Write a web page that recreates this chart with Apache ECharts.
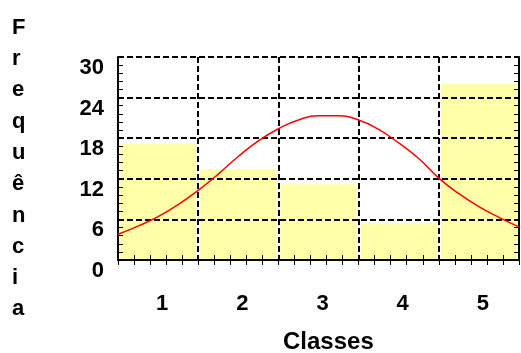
<!DOCTYPE html>
<html>
<head>
<meta charset="utf-8">
<script src="https://cdn.jsdelivr.net/npm/echarts@6/dist/echarts.min.js"></script>
<style>
html,body{margin:0;padding:0;background:#fff;}
#c{width:521px;height:353px;}
</style>
</head>
<body>
<div id="c"></div>
<script>
// ---- data ----
const categories = ['1', '2', '3', '4', '5'];
const barValues = [17.2, 13.4, 11.2, 5.5, 26.0];
const curveX = [0.5, 0.75, 1.0, 1.25, 1.5, 1.75, 2.0, 2.25, 2.5, 2.75, 3.0, 3.25, 3.5, 3.75, 4.0, 4.25, 4.5, 4.75, 5.0, 5.25, 5.5];
const curveY = [3.8, 5.0, 6.4, 8.2, 10.3, 12.7, 15.3, 17.6, 19.4, 20.7, 21.3, 21.3, 20.7, 19.3, 17.3, 15.0, 12.1, 9.8, 7.9, 6.3, 4.9];
const yTicks = [0, 6, 12, 18, 24, 30];
const yTitle = 'Frequência';
const xTitle = 'Classes';

const FONT = '"Liberation Sans", Arial, sans-serif';
const chart = echarts.init(document.getElementById('c'), null, {renderer: 'canvas'});
const dashed = {color: '#000', width: 2, type: [6, 3]};
const curveData = curveX.map((x, i) => [x, curveY[i]]);

chart.setOption({
  animation: false,
  backgroundColor: '#fff',
  grid: {left: 118, right: 2, top: 57, bottom: 93, containLabel: false},
  xAxis: [
    {
      type: 'category', data: categories, position: 'bottom', boundaryGap: true, z: 5,
      axisLine: {show: true, lineStyle: {color: '#000', width: 2}},
      axisTick: {show: false},
      axisLabel: {color: '#000', fontFamily: FONT, fontWeight: 'bold', fontSize: 22, margin: 33, padding: [0, 0, 0, 8]},
      splitLine: {show: true, lineStyle: dashed}
    },
    {
      type: 'value', min: 0.5, max: 5.5, interval: 1, position: 'top', z: 5,
      axisLine: {show: true, lineStyle: {color: '#000', width: 2}},
      axisTick: {show: true, inside: true, length: 5, lineStyle: {color: '#000', width: 1}},
      minorTick: {show: true, splitNumber: 5, length: 5, lineStyle: {color: '#000', width: 1}},
      axisLabel: {show: false}, splitLine: {show: false}
    },
    {
      type: 'value', min: 0.5, max: 5.5, interval: 1, position: 'bottom', z: 5,
      axisLine: {show: false},
      axisTick: {show: true, inside: true, length: 5, lineStyle: {color: '#000', width: 1}},
      minorTick: {show: true, splitNumber: 5, length: 5, lineStyle: {color: '#000', width: 1}},
      axisLabel: {show: false}, splitLine: {show: false}
    }
  ],
  yAxis: [
    {
      type: 'value', min: 0, max: 30, interval: 6, position: 'left', z: 5,
      axisLine: {show: true, lineStyle: {color: '#000', width: 2}},
      axisTick: {show: true, inside: true, length: 5, lineStyle: {color: '#000', width: 1}},
      minorTick: {show: true, splitNumber: 5, length: 5, lineStyle: {color: '#000', width: 1}},
      axisLabel: {color: '#000', fontFamily: FONT, fontWeight: 'bold', fontSize: 22, margin: 14, verticalAlign: 'top',
        formatter: v => yTicks.includes(v) ? String(v) : ''},
      splitLine: {show: true, lineStyle: dashed}
    },
    {
      type: 'value', min: 0, max: 30, interval: 6, position: 'right', z: 5,
      axisLine: {show: true, lineStyle: {color: '#000', width: 2}},
      axisTick: {show: true, inside: true, length: 5, lineStyle: {color: '#000', width: 1}},
      minorTick: {show: true, splitNumber: 5, length: 5, lineStyle: {color: '#000', width: 1}},
      axisLabel: {show: false}, splitLine: {show: false}
    }
  ],
  series: [
    {
      type: 'bar', xAxisIndex: 0, yAxisIndex: 0, data: barValues, z: 2,
      barCategoryGap: '5%', itemStyle: {color: '#ffffaa'}, silent: true
    },
    {
      type: 'line', xAxisIndex: 1, yAxisIndex: 0, data: curveData, z: 10,
      smooth: true, showSymbol: false, symbol: 'none',
      lineStyle: {color: '#ff0000', width: 1.5}, silent: true
    }
  ],
  graphic: [
    {
      type: 'text', left: 12, top: 12, z: 20,
      style: {text: yTitle.split('').join('\n'), fill: '#000', font: 'bold 22px ' + FONT, lineHeight: 31.3, align: 'center'}
    },
    {
      type: 'text', left: 283, top: 330, z: 20,
      style: {text: xTitle, fill: '#000', font: 'bold 24px ' + FONT}
    }
  ]
});
</script>
</body>
</html>
